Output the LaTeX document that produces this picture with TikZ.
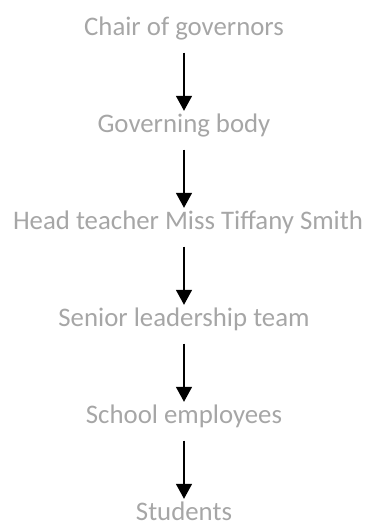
\documentclass[tikz,border=0pt]{standalone}
\usepackage{fontspec}
\setmainfont{Carlito}
\usepackage{xcolor}
\usetikzlibrary{positioning, arrows.meta}
\definecolor{labelgray}{HTML}{A6A6A6}

\tikzset{
  rank/.style={text=labelgray, inner sep=0pt, text height=17pt, text depth=4pt,
    font=\fontsize{26.8}{31}\selectfont},
  down/.style={line width=1.5pt, -{Triangle[width=16pt,length=15pt]},
    shorten <=13pt, shorten >=4.5pt}
}

\begin{document}
\begin{tikzpicture}[x=1pt,y=1pt]
        \useasboundingbox (0,0) rectangle (364,-527);

        \node[rank,anchor=base] (chair) at (184,-35.5) {Chair of governors};
        \node[rank,anchor=base] (body) at (184,-132.5) {Governing body};
        \node[rank,anchor=base] (head) at (188,-229.5) {Head teacher Miss Tiffany Smith};
        \node[rank,anchor=base] (senior) at (184,-326.5) {Senior leadership team};
        \node[rank,anchor=base] (staff) at (184,-423.5) {School employees};
        \node[rank,anchor=base] (students) at (184,-520.5) {Students};

        \draw[down] (chair) -- (body);
        \draw[down] (body) -- (head.north -| body);
        \draw[down] (head.south -| body) -- (senior);
        \draw[down] (senior) -- (staff);
        \draw[down] (staff) -- (students);
    \end{tikzpicture}
\end{document}
